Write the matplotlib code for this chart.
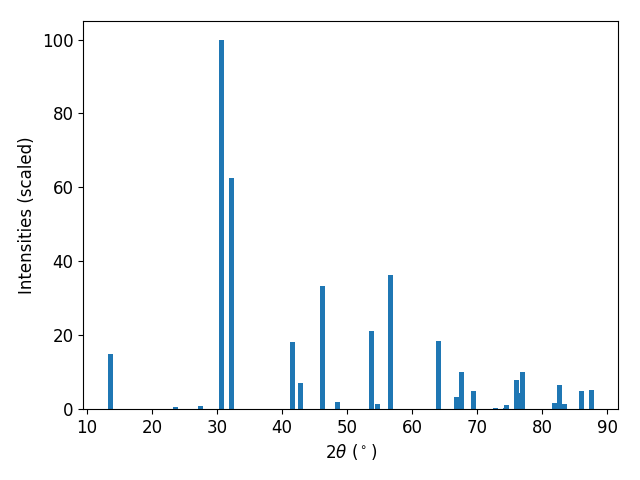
import numpy as np
import matplotlib
matplotlib.use("Agg")
import matplotlib.pyplot as plt

# peak positions (2theta, deg) and scaled intensities
two_theta = [13.56, 23.7, 27.47, 30.77, 32.3, 41.67, 42.9, 46.28, 48.5,
             53.73, 54.7, 56.65, 64.1, 66.8, 67.65, 69.4, 72.85, 74.4,
             74.55, 76.08, 76.8, 77.05, 81.9, 82.7, 83.45, 86.07, 87.6]
intensity = [15.0, 0.5, 0.8, 100.0, 62.6, 18.2, 7.0, 33.3, 1.9,
             21.1, 1.4, 36.3, 18.4, 3.25, 10.0, 4.9, 0.3, 0.2,
             1.1, 7.9, 4.3, 10.0, 1.6, 6.5, 1.4, 4.9, 5.2]

plt.rcParams['font.size'] = 12

fig, ax = plt.subplots(figsize=(6.4, 4.8), dpi=100)
ax.bar(two_theta, intensity, width=0.77, color='#1f77b4')
ax.set_xlabel(r'2$\theta$ ($^\circ$)')
ax.set_ylabel('Intensities (scaled)')
ax.set_xticks(np.arange(10, 91, 10))
fig.subplots_adjust(left=0.13, right=0.966, top=0.956, bottom=0.148)
fig.savefig('out.png')
